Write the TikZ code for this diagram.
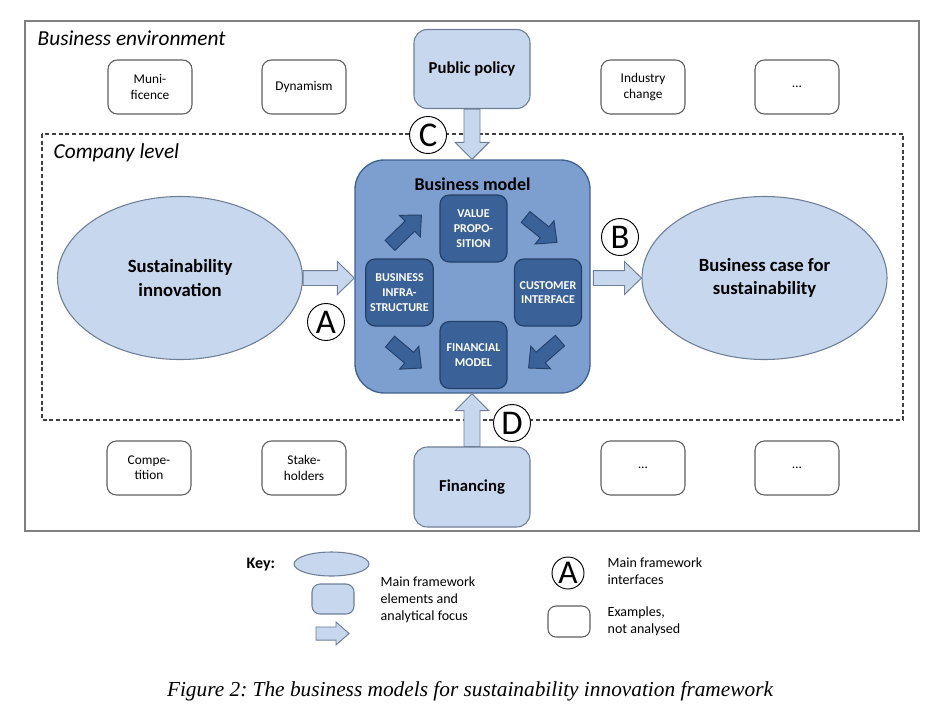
\documentclass[tikz,border=0pt]{standalone}
\usepackage{fontspec}
\setmainfont{Carlito}
\newfontfamily\captionserif{Liberation Serif}
\usepackage{tikz}
\usetikzlibrary{positioning}
\usetikzlibrary{calc,shapes.geometric}
\frenchspacing

\definecolor{lightfill}{HTML}{C6D7EE}
\definecolor{lightline}{HTML}{6E7E96}
\definecolor{bmfill}{HTML}{7C9FD0}
\definecolor{bmline}{HTML}{41618F}
\definecolor{darkfill}{HTML}{3A6298}
\definecolor{darkline}{HTML}{243F68}
\definecolor{boxline}{HTML}{5F5F5F}
\definecolor{framegray}{HTML}{808080}

\def\pix{0.75pt}

% fat outlined arrow from #2 to #3: shaft half width #4, head half width #5, head length #6
\newcommand\blockarrow[6][]{%
  \coordinate (ahead) at ($(#3)!#6!(#2)$);
  \draw[#1] ($(#2)!#4!90:(#3)$) -- ($(ahead)!#4!90:(#3)$) -- ($(ahead)!#5!90:(#3)$) -- (#3)
     -- ($(ahead)!#5!-90:(#3)$) -- ($(ahead)!#4!-90:(#3)$) -- ($(#2)!#4!-90:(#3)$) -- cycle;
}

\begin{document}
\begin{tikzpicture}[x=\pix, y=-\pix,
  envbox/.style={draw=boxline, line width=0.8pt, fill=white, rounded corners=7pt, minimum width=84*\pix, minimum height=54*\pix, align=center, font=\fontsize{10}{11.5}\selectfont},
  mainbox/.style={draw=lightline, line width=0.8pt, fill=lightfill, rounded corners=10pt, minimum width=116*\pix, minimum height=79*\pix, font=\fontsize{12.5}{15}\selectfont\bfseries},
  mainell/.style={ellipse, draw=lightline, line width=0.8pt, fill=lightfill, minimum width=245*\pix, minimum height=163*\pix, align=center, font=\fontsize{14}{17.3}\selectfont\bfseries},
  bmbox/.style={draw=bmline, line width=1pt, fill=bmfill, rounded corners=22pt, minimum width=235*\pix, minimum height=233*\pix},
  elbox/.style={draw=darkline, line width=0.9pt, fill=darkfill, rounded corners=7pt, minimum width=67*\pix, minimum height=67*\pix, align=center, text=white, font=\fontsize{9}{11}\selectfont\bfseries},
  iface/.style={circle, draw=black, line width=0.7pt, fill=white, inner sep=0pt, minimum size=37*\pix, font=\fontsize{26}{26}\selectfont},
  bigarrow/.style={draw=lightline, line width=0.7pt, fill=lightfill},
  smallarrow/.style={draw=darkline, line width=0.7pt, fill=darkfill},
  keytext/.style={anchor=west, align=left, font=\fontsize{10.5}{12.75}\selectfont},
  leveltitle/.style={anchor=west, font=\fontsize{16}{18}\selectfont\itshape}
]
  \useasboundingbox (0,0) rectangle (944,721);

  %frames
  \draw[framegray, line width=1.1pt] (25,21) rectangle (919,531);
  \draw[black!75, line width=0.8pt, dash pattern=on 3pt off 2pt] (42,134) rectangle (903,420);
  \node[leveltitle] (envtitle) at (33,38) {Business environment};
  \node[leveltitle] (comptitle) at (49,153) {Company level};

  %examples, not analysed
  \foreach \x/\y/\txt/\name in {150/87/{Muni-\\ficence}/muni, 304/87/Dynamism/dyn, 643/87/{Industry\\change}/ind, 797/87/…/envA,
                                149/468/{Compe-\\tition}/comp, 304/468/{Stake-\\holders}/stake, 643/468/…/envB, 797/468/…/envC}{
    \node[envbox] (\name) at (\x,\y) {\txt};
  }

  %main framework elements
  \node[mainbox] (pp) at (472,69) {Public policy};
  \node[mainbox, minimum height=80*\pix] (fin) at (472,487) {Financing};
  \node[mainell] (si) at (180,278) {Sustainability\\innovation};
  \node[mainell] (bc) at (764.5,278) {Business case for\\sustainability};

  %business model
  \node[bmbox] (bm) at (472.5,276.5) {};
  \node[font=\fontsize{13.5}{15}\selectfont\bfseries] (bmtitle) at (472.5,184) {Business model};
  \node[elbox] (vp) at (473.5,228.5) {VALUE\\PROPO-\\SITION};
  \node[elbox] (bi) at (399.5,292.5) {BUSINESS\\INFRA-\\STRUCTURE};
  \node[elbox] (ci) at (548,292.5) {CUSTOMER\\INTERFACE};
  \node[elbox] (fm) at (473.5,355) {FINANCIAL\\MODEL};

  \coordinate (bivpA) at ([shift={(-9.5,-13)}]bi.north);
  \coordinate (bivpB) at ([shift={(-18,-13.5)}]vp.west);
  \coordinate (vpciA) at ([shift={(18,-11.5)}]vp.east);
  \coordinate (vpciB) at ([shift={(9,-16)}]ci.north);
  \coordinate (bifmA) at ([shift={(-9.5,15)}]bi.south);
  \coordinate (bifmB) at ([shift={(-18,13)}]fm.west);
  \coordinate (cifmA) at ([shift={(12,14)}]ci.south);
  \coordinate (cifmB) at ([shift={(21,13)}]fm.east);
  \foreach \a/\b in {bivpA/bivpB, vpciA/vpciB, bifmA/bifmB, cifmA/cifmB}{
    \blockarrow[smallarrow]{\a}{\b}{5.25pt}{11.25pt}{12pt}
  }

  %interfaces
  \coordinate (ppB) at (pp.south |- bm.north);
  \coordinate (siB) at (si.east -| bm.west);
  \coordinate (bcA) at ([xshift=2pt]bc.west -| bm.east);
  \coordinate (finB) at (fin.north |- bm.south);
  \blockarrow[bigarrow]{pp.south}{ppB}{6pt}{12.75pt}{12.75pt}
  \blockarrow[bigarrow]{si.east}{siB}{5.6pt}{12.4pt}{12.75pt}
  \blockarrow[bigarrow]{bcA}{bc.west}{5.6pt}{12.4pt}{12.75pt}
  \blockarrow[bigarrow]{fin.north}{finB}{6pt}{12.75pt}{12.75pt}

  \node[iface] (ifA) at (326,322) {A};
  \node[iface] (ifB) at (620,237) {B};
  \node[iface] (ifC) at (428,135) {C};
  \node[iface] (ifD) at (512,423) {D};

  %key
  \node[anchor=west, font=\fontsize{12}{14}\selectfont\bfseries] (key) at (242,565) {Key:};
  \node[mainell, minimum width=75*\pix, minimum height=24*\pix] (keyell) at (331.5,564) {};
  \node[mainbox, rounded corners=6pt, minimum width=42*\pix, minimum height=30*\pix] (keybox) at (333,599) {};
  \coordinate (keyarrA) at (316,633.5);
  \coordinate (keyarrB) at (349,633.5);
  \blockarrow[bigarrow]{keyarrA}{keyarrB}{4.9pt}{8.6pt}{9.75pt}
  \node[keytext] (keymain) at (376,600) {Main framework\\elements and\\analytical focus};
  \node[iface, minimum size=32*\pix, font=\fontsize{25}{25}\selectfont] (keyif) at (568,573) {A};
  \node[keytext] (keyiftxt) at (603,571) {Main framework\\interfaces};
  \node[envbox, rounded corners=6pt, minimum width=42*\pix, minimum height=31*\pix] (keyenv) at (569,621.5) {};
  \node[keytext] (keyenvtxt) at (603,621) {Examples,\\not analysed};

  %caption
  \node[font=\captionserif\fontsize{16}{18}\selectfont\itshape] (caption) at (470,691)
    {Figure 2: The business models for sustainability innovation framework};
\end{tikzpicture}
\end{document}
